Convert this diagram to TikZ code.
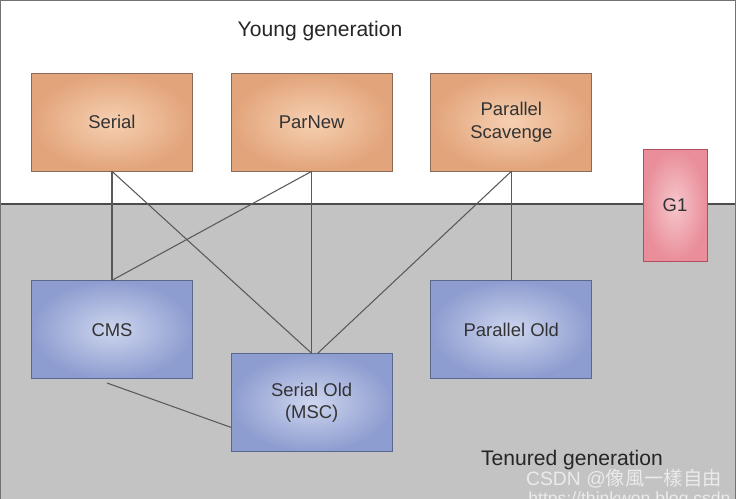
\documentclass[tikz,border=0pt]{standalone}
\usepackage{fontspec}
\setmainfont{Liberation Sans}
\newfontfamily\cjk{Noto Sans CJK TC}
\usepackage{xcolor}
\usepackage{tikz}
\usetikzlibrary{positioning, calc}

\definecolor{younginner}{HTML}{F6D0B2}
\definecolor{youngouter}{HTML}{E2A47A}
\definecolor{younglineclr}{HTML}{8C6A58}
\definecolor{oldinner}{HTML}{CDD5EE}
\definecolor{oldouter}{HTML}{8E9DD0}
\definecolor{oldlineclr}{HTML}{5A6890}
\definecolor{gone}{HTML}{F6C6CB}
\definecolor{gtwo}{HTML}{E98E9A}
\definecolor{glineclr}{HTML}{B0505E}
\definecolor{tenuredbg}{HTML}{C3C3C3}

\begin{document}
\begin{tikzpicture}[
        x=0.02cm, y=-0.02cm,
        font=\fontsize{10.5}{13}\selectfont,
        young/.style={rectangle, minimum width=3.22cm, minimum height=1.96cm, align=center, draw=younglineclr, inner color=younginner, outer color=youngouter, text=black!80},
        old/.style={rectangle, minimum width=3.22cm, minimum height=1.96cm, align=center, draw=oldlineclr, inner color=oldinner, outer color=oldouter, text=black!80},
        gfirst/.style={rectangle, minimum width=1.28cm, minimum height=2.24cm, draw=glineclr, inner color=gone, outer color=gtwo, text=black!80},
        genlabel/.style={font=\fontsize{12}{14}\selectfont, text=black!85},
        link/.style={draw=black!65, line width=0.6pt}
    ]

        % ===== 背景 =====
        \clip (0,0) rectangle (736,499);
        \fill[white] (0,0) rectangle (736,204);
        \fill[tenuredbg] (0,204) rectangle (736,499);
        \draw[black!70, line width=1.2pt] (0,204) -- (736,204);
        \draw[black!55, line width=1pt] (0,499) -- (0,0) -- (736,0) -- (736,499);

        \node (younglabel) [genlabel] at (320,31) {Young generation};
        \node (tenuredlabel) [genlabel] at (572,460) {Tenured generation};

        % ===== 新生代 =====
        \node (serial) [young] at (112,122) {Serial};
        \node (parnew) [young, right=0.76cm of serial] {ParNew};
        \node (parscav) [young, right=0.76cm of parnew] {Parallel\\Scavenge};

        % ===== 老年代 =====
        \node (cms) [old, below=2.18cm of serial] {CMS};
        \node (serialold) [old, below=3.64cm of parnew] {Serial Old\\(MSC)};
        \node (parold) [old, below=2.18cm of parscav] {Parallel Old};

        \node (gone) [gfirst] at (675,205) {G1};

        % ===== 连线 =====
        \draw [link] (serial.south) -- (cms.north);
        \draw [link] (serial.south) -- (serialold.north);
        \draw [link] (parnew.south) -- (cms.north);
        \draw [link] (parnew.south) -- (serialold.north);
        \draw [link] (parscav.south) -- ([xshift=0.12cm]serialold.north);
        \draw [link] (parscav.south) -- (parold.north);
        \draw [link] ([xshift=-0.1cm,yshift=-0.08cm]cms.south) -- ($(serialold.west)!0.5!(serialold.south west)$);

        % ===== 水印 =====
        \node (mark) [text=white!92!black, font=\fontsize{11}{13}\selectfont, inner sep=0pt] at (624,479) {CSDN @{\cjk 像風一樣自由}};
        \node (url) [text=white!92!black, font=\fontsize{10}{12}\selectfont, anchor=west, inner sep=0pt] at (528,500) {https://thinkwon.blog.csdn.net};

    \end{tikzpicture}
\end{document}
